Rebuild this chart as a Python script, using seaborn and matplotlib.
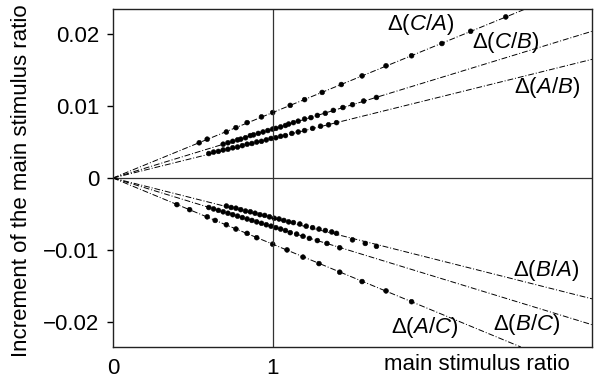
# Increment of the main stimulus ratio vs main stimulus ratio

import numpy as np
import pandas as pd
import matplotlib
matplotlib.use("Agg")
import matplotlib.pyplot as plt
import seaborn as sns

# Data

names = ["C/A", "C/B", "A/B", "B/A", "B/C", "A/C"]
slopes = [0.0091, 0.0068, 0.0055, -0.0056, -0.0068, -0.0092]

ca_x = [0.54, 0.59, 0.71, 0.77, 0.84, 0.93, 1.0, 1.11, 1.2, 1.31, 1.43, 1.56, 1.71, 1.87, 2.06, 2.24, 2.46]
ca_y = [0.0049, 0.0054, 0.0064, 0.0070, 0.0077, 0.0085, 0.0091, 0.0101, 0.0109, 0.0119, 0.0130,
        0.0142, 0.0156, 0.0170, 0.0187, 0.0204, 0.0224]

cb_x = [0.69, 0.72, 0.75, 0.78, 0.8, 0.83, 0.86, 0.88, 0.91, 0.94, 0.97, 1.0, 1.02, 1.05, 1.08,
        1.1, 1.13, 1.16, 1.2, 1.24, 1.28, 1.33, 1.38, 1.44, 1.5, 1.57, 1.65]
cb_y = [0.0047, 0.0049, 0.0051, 0.0053, 0.0054, 0.0056, 0.0059, 0.0060, 0.0062, 0.0064, 0.0066,
        0.0068, 0.0069, 0.0071, 0.0073, 0.0075, 0.0077, 0.0079, 0.0082, 0.0084, 0.0087, 0.0090,
        0.0094, 0.0098, 0.0102, 0.0107, 0.0112]

ab_x = [0.6, 0.63, 0.66, 0.69, 0.72, 0.75, 0.78, 0.81, 0.84, 0.87, 0.9, 0.93, 0.96, 0.99, 1.02,
        1.05, 1.08, 1.12, 1.16, 1.2, 1.25, 1.3, 1.35, 1.4]
ab_y = [0.0034, 0.0036, 0.0037, 0.0039, 0.0040, 0.0042, 0.0043, 0.0045, 0.0047, 0.0048, 0.0050,
        0.0051, 0.0053, 0.0055, 0.0056, 0.0058, 0.0059, 0.0062, 0.0064, 0.0066, 0.0069, 0.0072,
        0.0074, 0.0077]

ba_x = [0.71, 0.74, 0.77, 0.8, 0.83, 0.86, 0.89, 0.92, 0.95, 0.98, 1.01, 1.04, 1.07, 1.1, 1.13,
        1.17, 1.21, 1.25, 1.29, 1.33, 1.37, 1.4, 1.5, 1.58, 1.65]
ba_y = [-0.0039, -0.0041, -0.0042, -0.0044, -0.0046, -0.0047, -0.0049, -0.0051, -0.0052, -0.0054,
        -0.0056, -0.0057, -0.0059, -0.0061, -0.0062, -0.0064, -0.0067, -0.0069, -0.0071, -0.0073,
        -0.0075, -0.0077, -0.0086, -0.0091, -0.0095]

bc_x = [0.6, 0.63, 0.66, 0.69, 0.72, 0.75, 0.78, 0.81, 0.84, 0.87, 0.9, 0.93, 0.96, 0.99, 1.02,
        1.05, 1.08, 1.11, 1.15, 1.19, 1.23, 1.28, 1.34, 1.42]
bc_y = [-0.0041, -0.0043, -0.0045, -0.0047, -0.0049, -0.0051, -0.0053, -0.0055, -0.0057, -0.0059,
        -0.0061, -0.0063, -0.0065, -0.0067, -0.0069, -0.0071, -0.0073, -0.0076, -0.0078, -0.0081,
        -0.0084, -0.0087, -0.0091, -0.0097]

ac_x = [0.4, 0.48, 0.59, 0.64, 0.71, 0.77, 0.84, 0.9, 1.0, 1.09, 1.19, 1.29, 1.42, 1.56, 1.71, 1.87]
ac_y = [-0.0037, -0.0044, -0.0054, -0.0059, -0.0065, -0.0071, -0.0077, -0.0083, -0.0092, -0.0100,
        -0.0110, -0.0119, -0.0131, -0.0144, -0.0157, -0.0172]

label_x = [1.93, 2.46, 2.72, 2.71, 2.59, 1.95]
label_y = [0.0213, 0.0189, 0.0126, -0.0128, -0.0204, -0.0208]

yticks = [-0.02, -0.01, 0, 0.01, 0.02]
yticklabels = ["\u22120.02", "\u22120.01", "0", "0.01", "0.02"]

# Build long table

xs = [ca_x, cb_x, ab_x, ba_x, bc_x, ac_x]
ys = [ca_y, cb_y, ab_y, ba_y, bc_y, ac_y]
df = pd.concat([pd.DataFrame({"ratio": x, "increment": y, "pair": n})
                for n, x, y in zip(names, xs, ys)], ignore_index=True)

# Plot

sns.set_theme(style="white")
plt.rcParams["font.family"] = ["Liberation Sans", "DejaVu Sans"]
plt.rcParams["mathtext.fontset"] = "custom"
plt.rcParams["mathtext.rm"] = "Liberation Sans"
plt.rcParams["mathtext.it"] = "Liberation Sans:italic"
plt.rcParams["text.color"] = "black"
plt.rcParams["xtick.color"] = "black"
plt.rcParams["ytick.color"] = "black"

fs = 16

fig = plt.figure(figsize=(5.96, 3.8), dpi=100)
ax = fig.add_axes([113 / 596, 1 - 347 / 380, 479 / 596, 338 / 380])

ax.axvline(1, color="#333333", lw=0.9)
ax.axhline(0, color="#333333", lw=0.9)
for s in slopes:
    ax.axline((0, 0), slope=s, color="black", lw=0.7, ls=(0, (6, 2, 1, 2)))

sns.scatterplot(data=df, x="ratio", y="increment", hue="pair",
                palette=["black"] * 6, s=12, edgecolor="black", linewidth=0.4,
                legend=False, ax=ax)

for n, lx, ly in zip(names, label_x, label_y):
    a, b = n.split("/")
    ax.text(lx, ly, r"$\Delta(%s/%s)$" % (a, b), fontsize=fs, ha="center", va="center")

ax.set_xlim(0, 3)
ax.set_ylim(-0.0235, 0.0235)
ax.set_xticks([0, 1])
ax.set_xticklabels(["0", "1"], fontsize=fs)
ax.set_yticks(yticks)
ax.set_yticklabels(yticklabels, fontsize=fs)
ax.tick_params(axis="x", length=0, pad=8)
ax.tick_params(axis="y", length=4, width=1, direction="out", pad=6, left=True)
ax.set_xlabel("")
ax.set_ylabel("")
for sp in ax.spines.values():
    sp.set_color("#222222")
    sp.set_linewidth(1)

fig.text(477 / 596, 1 - 365 / 380, "main stimulus ratio", fontsize=fs, ha="center", va="center")
fig.text(22 / 596, 1 - 181 / 380, "Increment of the main stimulus ratio", fontsize=fs,
         rotation=90, ha="center", va="center")

plt.savefig("out.png", dpi=100)
